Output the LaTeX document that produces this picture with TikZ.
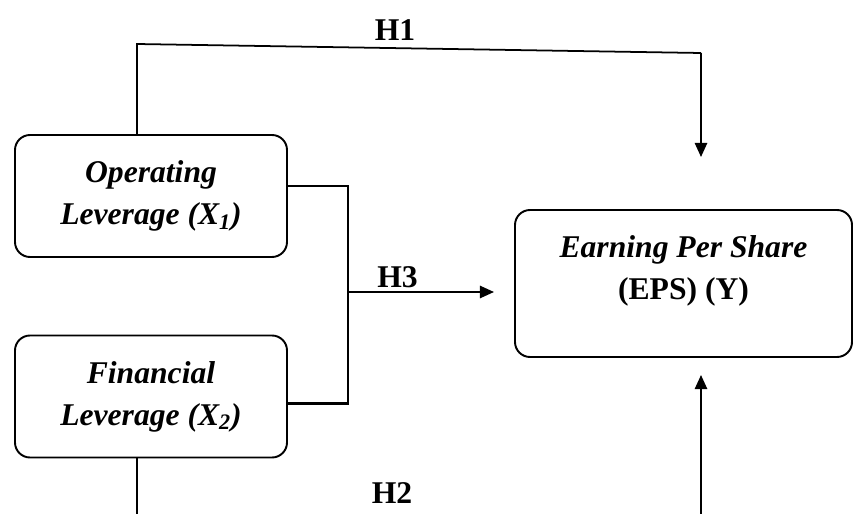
\documentclass[tikz,border=0pt]{standalone}
\usepackage{fontspec}
\setmainfont{Liberation Serif}
\usetikzlibrary{positioning, arrows.meta}

\begin{document}
\begin{tikzpicture}[
    var/.style={draw, line width=1.1pt, rounded corners=0.3cm, minimum width=5.44cm, minimum height=2.44cm, align=center, font=\bfseries\itshape\fontsize{18}{23.8}\selectfont},
    hyp/.style={font=\bfseries\fontsize{18}{20}\selectfont, inner sep=0pt},
    link/.style={line width=1pt},
    bracket/.style={line width=1.6pt},
    tip/.style={-{Triangle[length=8pt, width=7pt]}, line width=1pt},
  ]
  \useasboundingbox (0,0) rectangle (17.08,-10.28);

  % Variables
  \node[var] (opl) at (3.02, -3.92) {Operating\\Leverage (X\textsubscript{1})};
  \node[var] (fil) at (3.02, -7.93) {Financial\\Leverage (X\textsubscript{2})};
  \node[var, minimum width=6.74cm, minimum height=2.94cm] (eps) at (13.67, -5.67) {};
  \node[align=center, inner sep=0pt, font=\bfseries\fontsize{18}{23.8}\selectfont] (epstext) at ([yshift=0.25cm]eps.center)
    {\textit{Earning Per Share}\\(EPS) (Y)};

  % Free ends
  \coordinate (h1l) at (2.74, -0.88);
  \coordinate (h1r) at (14.02, -1.06);
  \coordinate (h1tip) at (14.02, -3.14);
  \coordinate (h2l) at (2.74, -10.28);
  \coordinate (h2r) at (14.02, -10.28);
  \coordinate (h2tip) at (14.02, -7.5);
  \coordinate (join) at (6.96, -5.84);
  \coordinate (h3tip) at (9.88, -5.84);

  % H1
  \draw[link] ([xshift=-0.28cm]opl.north) -- (h1l) -- (h1r);
  \draw[tip] (h1r) -- (h1tip);
  \node[hyp] (h1) at (7.9, -0.6) {H1};

  % H2
  \draw[link] ([xshift=-0.28cm]fil.south) -- (h2l);
  \draw[tip] (h2r) -- (h2tip);
  \node[hyp] (h2) at (7.84, -9.86) {H2};

  % H3
  \draw[bracket] ([yshift=0.2cm]opl.east) -| (join);
  \draw[bracket] ([yshift=-0.14cm]fil.east) -| (join);
  \draw[tip] (join) -- (h3tip);
  \node[hyp, anchor=base west] (h3) at (7.54, -5.74) {H3};
\end{tikzpicture}
\end{document}
